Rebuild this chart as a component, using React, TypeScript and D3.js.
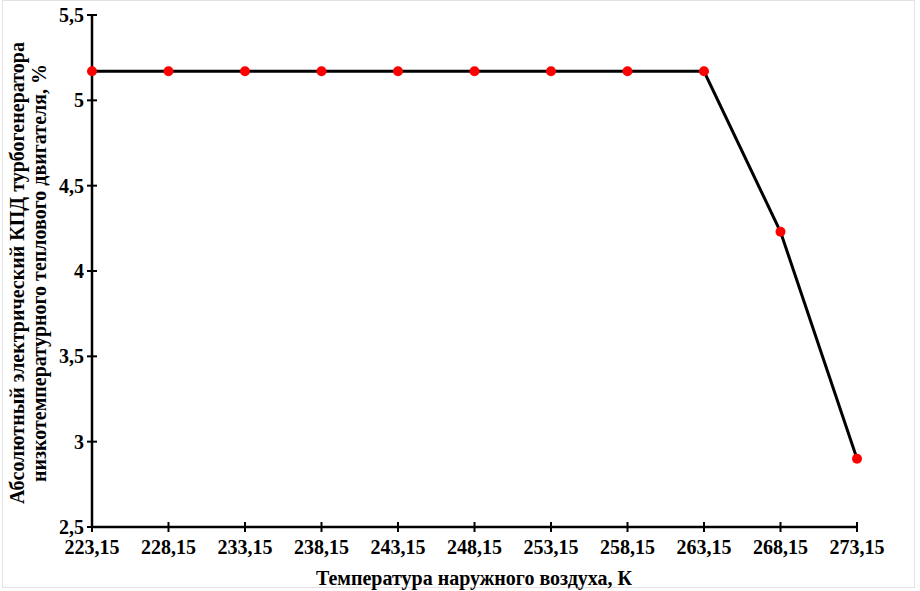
import React from "react";
import * as d3 from "d3";

const categories = ["223,15", "228,15", "233,15", "238,15", "243,15", "248,15", "253,15", "258,15", "263,15", "268,15", "273,15"];
const values = [5.17, 5.17, 5.17, 5.17, 5.17, 5.17, 5.17, 5.17, 5.17, 4.23, 2.9];
const yTicks = [2.5, 3, 3.5, 4, 4.5, 5, 5.5];
const xTitle = "Температура наружного воздуха, К";
const yTitle1 = "Абсолютный электрический КПД турбогенератора";
const yTitle2 = "низкотемпературного теплового двигателя, %";

const W = 920, H = 591;
const left = 92, right = 857, top = 15, bottom = 527;
const font = "'Liberation Serif', 'Times New Roman', serif";

export default function App() {
  const x = d3.scalePoint<string>().domain(categories).range([left, right]);
  const y = d3.scaleLinear().domain([2.5, 5.5]).range([bottom, top]);
  const line = d3.line<number>().x((_, i) => x(categories[i])!).y((d) => y(d));
  const fmt = (v: number) => String(v).replace(".", ",");
  return (
    <svg width={W} height={H} style={{ position: "fixed", left: 0, top: 0, background: "#fff" }} fontFamily={font}>
      <rect x={2.5} y={0.5} width={912} height={587} fill="#fff" stroke="#e2e2e2" strokeWidth={1} />
      <line x1={left} x2={left} y1={top} y2={bottom} stroke="#000" strokeWidth={2.5} />
      <line x1={left} x2={right} y1={bottom} y2={bottom} stroke="#000" strokeWidth={2.5} />
      {yTicks.map((t) => (
        <g key={t}>
          <line x1={left - 5} x2={left + 5} y1={y(t)} y2={y(t)} stroke="#000" strokeWidth={2} />
          <text x={left - 8} y={y(t)} dy="0.35em" textAnchor="end" fontSize={20} fontWeight="bold">{fmt(t)}</text>
        </g>
      ))}
      {categories.map((c) => (
        <g key={c}>
          <line x1={x(c)} x2={x(c)} y1={bottom - 5} y2={bottom + 5} stroke="#000" strokeWidth={2} />
          <text x={x(c)} y={bottom + 27} textAnchor="middle" fontSize={20} fontWeight="bold">{c}</text>
        </g>
      ))}
      <path d={line(values) || ""} fill="none" stroke="#000" strokeWidth={3} />
      {values.map((v, i) => (
        <circle key={i} cx={x(categories[i])} cy={y(v)} r={5} fill="#ff0000" />
      ))}
      <text x={474} y={585} textAnchor="middle" fontSize={20} fontWeight="bold">{xTitle}</text>
      <text transform={`translate(24,273) rotate(-90)`} textAnchor="middle" fontSize={20} fontWeight="bold">{yTitle1}</text>
      <text transform={`translate(46,273) rotate(-90)`} textAnchor="middle" fontSize={20} fontWeight="bold">{yTitle2}</text>
    </svg>
  );
}
